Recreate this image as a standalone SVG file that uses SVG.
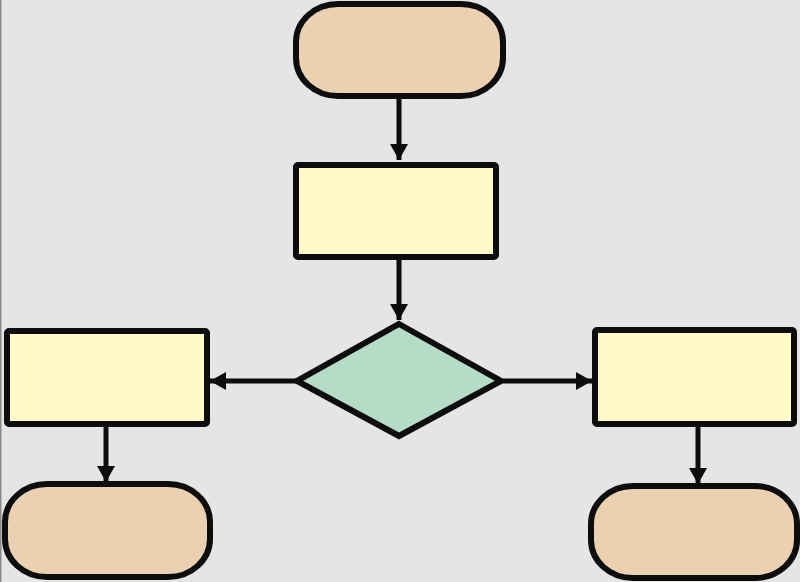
<svg xmlns="http://www.w3.org/2000/svg" width="800" height="582" viewBox="0 0 800 582">
<style>
.t{fill:#ebd1b1;stroke:#0d0d0d;stroke-width:6}
.p{fill:#fffac7;stroke:#0d0d0d;stroke-width:6}
.d{fill:#b4dcc6;stroke:#0d0d0d;stroke-width:6;stroke-linejoin:miter}
.c{stroke:#0d0d0d;stroke-width:5;fill:none}
</style>
<defs>
<marker id="a" markerUnits="userSpaceOnUse" markerWidth="20" markerHeight="20" refX="16" refY="9" orient="auto">
<path d="M0,0 L16,9 L0,18 Z" fill="#0d0d0d"/>
</marker>
</defs>
<rect width="800" height="582" fill="#e5e5e5"/>
<line x1="0.75" y1="0" x2="0.75" y2="582" stroke="#8a8a8a" stroke-width="1.5"/>
<g id="connectors">
<line class="c" x1="399" y1="99" x2="399" y2="160" marker-end="url(#a)"/>
<line class="c" x1="399" y1="260" x2="399" y2="320" marker-end="url(#a)"/>
<line class="c" x1="296" y1="381" x2="210" y2="381" marker-end="url(#a)"/>
<line class="c" x1="503" y1="381" x2="592" y2="381" marker-end="url(#a)"/>
<line class="c" x1="106" y1="427" x2="106" y2="482" marker-end="url(#a)"/>
<line class="c" x1="698" y1="427" x2="698" y2="484" marker-end="url(#a)"/>
</g>
<g id="start"><rect class="t" x="296" y="4" width="207" height="92" rx="42" ry="38"/></g>
<g id="process"><rect class="p" x="296" y="165" width="200" height="92" rx="2"/></g>
<g id="decision"><polygon class="d" points="399,324 501,381 399,436 297,381"/></g>
<g id="left-process"><rect class="p" x="7" y="331" width="200" height="93" rx="2"/></g>
<g id="right-process"><rect class="p" x="595" y="330" width="199" height="94" rx="2"/></g>
<g id="left-end"><rect class="t" x="5" y="484" width="205" height="93" rx="42" ry="38"/></g>
<g id="right-end"><rect class="t" x="591" y="486" width="206" height="92" rx="42" ry="38"/></g>
</svg>
